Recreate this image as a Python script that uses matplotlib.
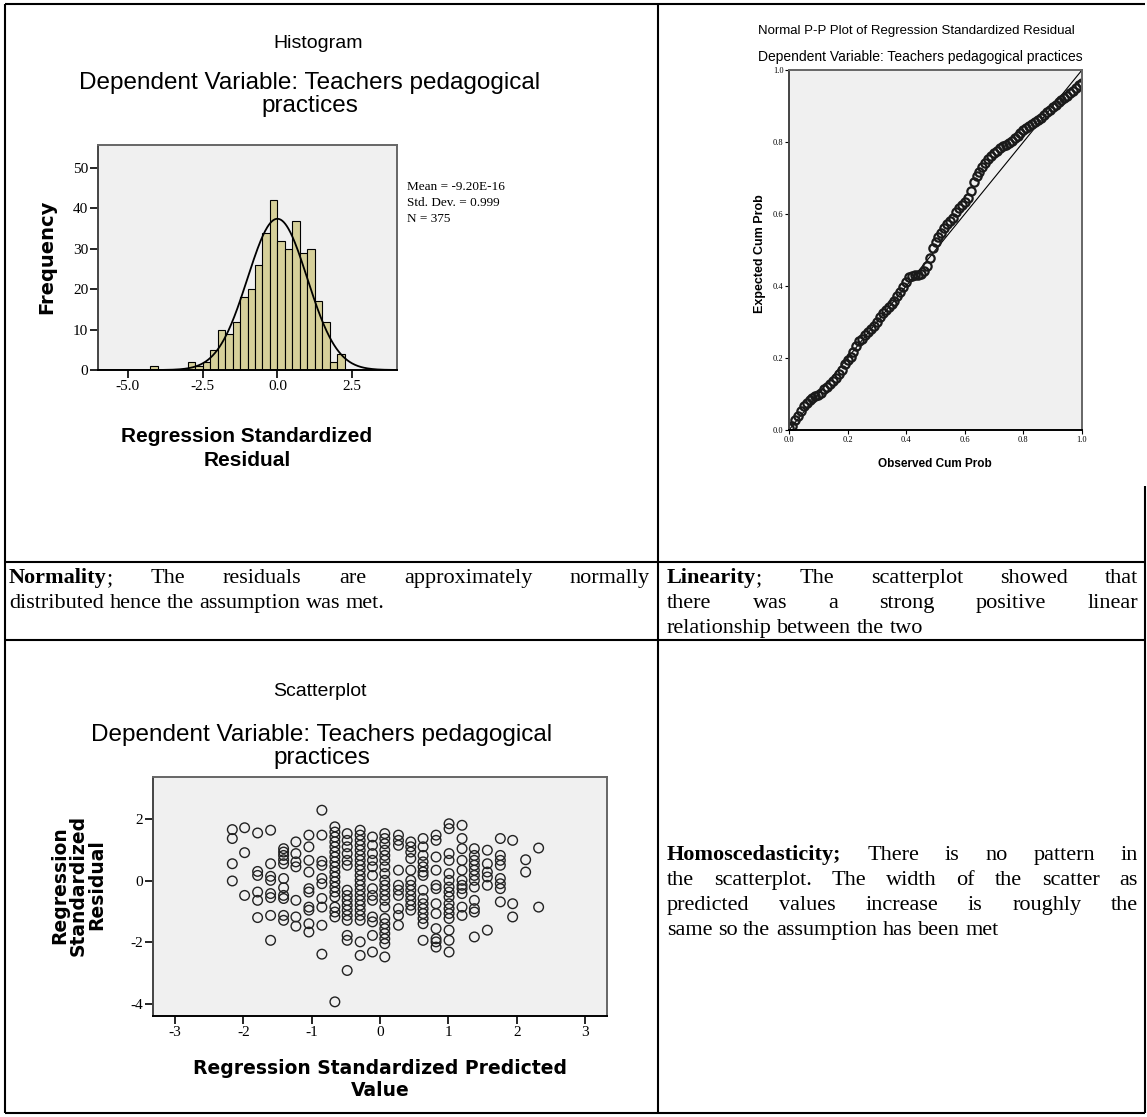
import numpy as np
import matplotlib.pyplot as plt

plt.rcParams['axes.unicode_minus'] = False

W, H = 1147, 1117

# histogram of standardized residuals (bin width 0.25)
bin_starts = [-4.25, -3.0, -2.75, -2.5, -2.25, -2.0, -1.75, -1.5, -1.25, -1.0, -0.75,
              -0.5, -0.25, 0.0, 0.25, 0.5, 0.75, 1.0, 1.25, 1.5, 1.75, 2.0]
bin_counts = [1, 2, 1, 2, 5, 10, 9, 12, 18, 20, 26, 34, 42, 32, 30, 37, 29, 30, 17, 12, 2, 4]
res_mean, res_sd, res_n = -9.20e-16, 0.999, 375

# normal P-P plot
pp_obs = [0.00, 0.01, 0.02, 0.03, 0.04, 0.05, 0.06, 0.07, 0.08, 0.09, 0.10, 0.11, 0.12, 0.13,
          0.14, 0.15, 0.16, 0.17, 0.18, 0.19, 0.20, 0.21, 0.22, 0.23, 0.24, 0.25, 0.26, 0.27,
          0.28, 0.29, 0.30, 0.31, 0.32, 0.33, 0.34, 0.35, 0.36, 0.37, 0.38, 0.39, 0.40, 0.41,
          0.42, 0.43, 0.44, 0.45, 0.46, 0.47, 0.48, 0.49, 0.50, 0.51, 0.52, 0.53, 0.54, 0.55,
          0.56, 0.57, 0.58, 0.59, 0.60, 0.61, 0.62, 0.63, 0.64, 0.65, 0.66, 0.67, 0.68, 0.69,
          0.70, 0.71, 0.72, 0.73, 0.74, 0.75, 0.76, 0.77, 0.78, 0.79, 0.80, 0.81, 0.82, 0.83,
          0.84, 0.85, 0.86, 0.87, 0.88, 0.89, 0.90, 0.91, 0.92, 0.93, 0.94, 0.95, 0.96, 0.97,
          0.98, 0.99, 1.00]
pp_exp = [0.005, 0.012, 0.028, 0.040, 0.052, 0.066, 0.076, 0.082, 0.088, 0.094, 0.098, 0.104,
          0.113, 0.120, 0.128, 0.136, 0.145, 0.155, 0.168, 0.182, 0.194, 0.204, 0.218, 0.232,
          0.246, 0.254, 0.264, 0.272, 0.280, 0.290, 0.301, 0.313, 0.324, 0.334, 0.341, 0.350,
          0.358, 0.372, 0.384, 0.396, 0.412, 0.424, 0.428, 0.430, 0.430, 0.433, 0.442, 0.455,
          0.478, 0.505, 0.522, 0.536, 0.548, 0.560, 0.572, 0.580, 0.590, 0.606, 0.616, 0.626,
          0.634, 0.644, 0.665, 0.690, 0.706, 0.718, 0.730, 0.742, 0.752, 0.762, 0.770, 0.776,
          0.782, 0.788, 0.792, 0.796, 0.802, 0.810, 0.818, 0.826, 0.832, 0.838, 0.844, 0.850,
          0.856, 0.862, 0.868, 0.874, 0.882, 0.889, 0.896, 0.904, 0.910, 0.916, 0.922, 0.928,
          0.935, 0.942, 0.950, 0.958, 0.965]

# scatterplot: predicted value columns and the residuals in each
sc_pred = [-2.16, -1.98, -1.79, -1.60, -1.41, -1.23, -1.04, -0.85, -0.66, -0.48, -0.29, -0.11,
           0.07, 0.27, 0.45, 0.63, 0.82, 1.01, 1.20, 1.38, 1.57, 1.76, 1.94, 2.13, 2.32]
sc_resid = [
    [1.67, 1.38, 0.56, 0.00],
    [1.73, 0.92, -0.47],
    [1.56, 0.31, 0.18, -0.36, -0.63, -1.19],
    [1.65, 0.56, 0.15, 0.02, -0.41, -0.54, -1.12, -1.93],
    [1.05, 0.94, 0.83, 0.69, 0.56, 0.08, -0.22, -0.47, -0.57, -1.12, -1.28],
    [1.27, 0.89, 0.62, 0.46, -0.63, -1.17, -1.47],
    [1.49, 1.11, 0.67, 0.29, -0.25, -0.36, -0.85, -0.95, -1.39, -1.66],
    [2.30, 1.49, 0.64, 0.51, 0.08, -0.09, -0.57, -0.85, -1.44, -2.38],
    [1.76, 1.59, 1.43, 1.27, 1.11, 0.94, 0.78, 0.62, 0.46, 0.29, 0.13, -0.03, -0.20, -0.36,
     -0.52, -0.85, -1.01, -1.17, -3.93],
    [1.54, 1.32, 1.11, 0.89, 0.67, 0.51, -0.30, -0.47, -0.63, -0.79, -0.95, -1.12, -1.28,
     -1.77, -1.93, -2.91],
    [1.65, 1.49, 1.32, 1.16, 1.00, 0.83, 0.67, 0.51, 0.35, 0.18, 0.02, -0.14, -0.30, -0.47,
     -0.63, -0.79, -0.95, -1.12, -1.28, -1.98, -2.42],
    [1.43, 1.16, 0.89, 0.67, 0.46, 0.18, -0.25, -0.47, -0.63, -1.17, -1.33, -1.77, -2.31],
    [1.54, 1.38, 1.21, 1.00, 0.83, 0.67, 0.46, 0.24, 0.02, -0.14, -0.30, -0.47, -0.63, -0.85,
     -1.22, -1.39, -1.55, -1.71, -1.88, -2.04, -2.47],
    [1.49, 1.32, 1.16, 0.35, -0.14, -0.30, -0.47, -0.90, -1.12, -1.44],
    [1.27, 1.11, 0.94, 0.73, 0.35, 0.02, -0.14, -0.30, -0.47, -0.63, -0.79, -0.95],
    [1.38, 1.11, 0.83, 0.62, 0.46, 0.29, 0.18, -0.30, -0.57, -0.74, -0.90, -1.06, -1.22,
     -1.39, -1.93],
    [1.49, 1.32, 0.78, 0.35, -0.14, -0.25, -0.74, -1.06, -1.55, -1.88, -1.98, -2.15],
    [1.86, 1.70, 0.89, 0.67, 0.24, 0.02, -0.20, -0.36, -0.52, -0.74, -0.90, -1.06, -1.22,
     -1.60, -1.93, -2.31],
    [1.81, 1.38, 1.05, 0.67, 0.35, 0.02, -0.14, -0.25, -0.41, -0.85, -1.12],
    [1.05, 0.83, 0.67, 0.51, 0.35, 0.18, 0.02, -0.20, -0.63, -0.90, -1.01, -1.82],
    [1.00, 0.56, 0.29, 0.13, -0.14, -1.60],
    [1.38, 0.83, 0.67, 0.51, 0.08, -0.09, -0.25, -0.68],
    [1.32, -0.74, -1.17],
    [0.69, 0.29],
    [1.07, -0.85],
]

fig = plt.figure(figsize=(W / 100, H / 100), dpi=100)


def rect(x0, y0, x1, y1):
    return [x0 / W, 1 - y1 / H, (x1 - x0) / W, (y1 - y0) / H]


# page layer in pixel coordinates for the table and all the loose text
bg = fig.add_axes([0, 0, 1, 1])
bg.set_xlim(0, W)
bg.set_ylim(H, 0)
bg.axis('off')

ROW1, ROW2 = 562, 640
for xs, ys in [([5, 1145], [4, 4]), ([5, 1145], [ROW1, ROW1]), ([5, 1145], [ROW2, ROW2]),
               ([5, 1145], [1113, 1113]), ([5, 5], [4, 1113]), ([658, 658], [4, 1113]),
               ([1145, 1145], [486, 1113])]:
    bg.plot(xs, ys, color='black', lw=1.5, solid_capstyle='butt')

SANS = 'Liberation Sans'
SERIF = 'Liberation Serif'
PANEL = '#f0f0f0'


def style_axes(ax, size):
    ax.set_facecolor(PANEL)
    for s in ax.spines.values():
        s.set_color('#666666')
        s.set_linewidth(1.4)
    ax.spines['bottom'].set_color('black')
    ax.spines['left'].set_color('#444444')
    ax.tick_params(direction='out', length=6, width=1.2, labelsize=size, pad=1)
    for lab in ax.get_xticklabels() + ax.get_yticklabels():
        lab.set_family(SERIF)


# ---- histogram ----
ax1 = fig.add_axes(rect(98, 145, 397, 370))
ax1.bar(bin_starts, bin_counts, width=0.25, align='edge', color='#d6d09a',
        edgecolor='black', linewidth=0.8)
xs = np.linspace(-6, 4, 400)
curve = res_n * 0.25 * np.exp(-0.5 * ((xs - res_mean) / res_sd) ** 2) / (res_sd * np.sqrt(2 * np.pi))
ax1.plot(xs, curve, color='black', lw=1.3)
ax1.set_xlim(-6, 4)
ax1.set_ylim(0, 55.7)
ax1.set_xticks([-5, -2.5, 0, 2.5])
ax1.set_xticklabels(['-5.0', '-2.5', '0.0', '2.5'])
ax1.set_yticks([0, 10, 20, 30, 40, 50])
style_axes(ax1, 11)

SUB = 17.5
bg.text(318, 43, 'Histogram', family=SANS, fontsize=14, ha='center', va='center')
bg.text(310, 83, 'Dependent Variable: Teachers pedagogical', family=SANS, fontsize=SUB,
        ha='center', va='center')
bg.text(310, 106, 'practices', family=SANS, fontsize=SUB, ha='center', va='center')
for i, s in enumerate(['Mean = -9.20E-16', 'Std. Dev. = 0.999', 'N = 375']):
    bg.text(407, 187 + 16 * i, s, family=SERIF, fontsize=9.5, ha='left', va='center')
bg.text(47, 257, 'Frequency', family='DejaVu Sans', fontweight='bold', fontsize=14,
        rotation=90, ha='center', va='center')
bg.text(247, 436, 'Regression Standardized', family=SANS, fontweight='bold', fontsize=15,
        ha='center', va='center')
bg.text(247, 460, 'Residual', family=SANS, fontweight='bold', fontsize=15,
        ha='center', va='center')

# ---- normal P-P plot ----
ax2 = fig.add_axes(rect(789, 70, 1082, 430))
ax2.plot([0, 1], [0, 1], color='black', lw=0.8)
ax2.plot(pp_obs, pp_exp, 'o', ms=6, mfc='none', mec='#1a1a1a', mew=1.6)
ax2.set_xlim(0, 1)
ax2.set_ylim(0, 1)
ticks = [0, 0.2, 0.4, 0.6, 0.8, 1.0]
ax2.set_xticks(ticks)
ax2.set_yticks(ticks)
ax2.set_xticklabels(['0.0', '0.2', '0.4', '0.6', '0.8', '1.0'])
ax2.set_yticklabels(['0.0', '0.2', '0.4', '0.6', '0.8', '1.0'])
style_axes(ax2, 6)
ax2.tick_params(length=3, width=0.8)

bg.text(916, 31, 'Normal P-P Plot of Regression Standardized Residual', family=SANS,
        fontsize=9.5, ha='center', va='center')
bg.text(920, 57, 'Dependent Variable: Teachers pedagogical practices', family=SANS,
        fontsize=10, ha='center', va='center')
bg.text(760, 254, 'Expected Cum Prob', family=SANS, fontweight='bold', fontsize=9,
        rotation=90, ha='center', va='center')
bg.text(935, 464, 'Observed Cum Prob', family=SANS, fontweight='bold', fontsize=8.5,
        ha='center', va='center')

# ---- scatterplot ----
ax3 = fig.add_axes(rect(153, 777, 607, 1016))
for px, col in zip(sc_pred, sc_resid):
    ax3.scatter([px] * len(col), col, s=48, facecolors='none', edgecolors='#222222',
                linewidths=1.0)
ax3.set_xlim(-3.32, 3.32)
ax3.set_ylim(-4.39, 3.38)
ax3.set_xticks([-3, -2, -1, 0, 1, 2, 3])
ax3.set_yticks([-4, -2, 0, 2])
style_axes(ax3, 11)

bg.text(320, 692, 'Scatterplot', family=SANS, fontsize=14, ha='center', va='center')
bg.text(322, 735, 'Dependent Variable: Teachers pedagogical', family=SANS, fontsize=SUB,
        ha='center', va='center')
bg.text(322, 758, 'practices', family=SANS, fontsize=SUB, ha='center', va='center')
bg.text(78, 885, 'Regression\nStandardized\nResidual', family='DejaVu Sans',
        fontweight='bold', fontsize=13.5, rotation=90, ha='center', va='center',
        multialignment='center', linespacing=0.95)
bg.text(380, 1069, 'Regression Standardized Predicted', family='DejaVu Sans',
        fontweight='bold', fontsize=13.5, ha='center', va='center')
bg.text(380, 1090, 'Value', family='DejaVu Sans', fontweight='bold', fontsize=13.5,
        ha='center', va='center')

# ---- table text (justified like the document) ----
renderer = fig.canvas.get_renderer()
BODY = 16


def text_line(line, x0, x1, y, bold='', justify=True):
    words = line.split(' ')
    items = []
    for k, w in enumerate(words):
        parts = []
        if k == 0 and bold:
            parts.append((bold, 'bold'))
            if len(w) > len(bold):
                parts.append((w[len(bold):], 'normal'))
        else:
            parts.append((w, 'normal'))
        objs = []
        for txt, wt in parts:
            t = bg.text(0, y, txt, family=SERIF, fontsize=BODY, fontweight=wt,
                        ha='left', va='baseline')
            objs.append((t, t.get_window_extent(renderer).width))
        items.append(objs)
    widths = [sum(w for _, w in objs) for objs in items]
    if justify and len(items) > 1:
        gap = (x1 - x0 - sum(widths)) / (len(items) - 1)
    else:
        gap = 0.25 * BODY * 100 / 72
    x = x0
    for objs, wsum in zip(items, widths):
        xx = x
        for t, w in objs:
            t.set_x(xx)
            xx += w
        x += wsum + gap


LS = 25
text_line('Normality; The residuals are approximately normally', 9, 650, 583, bold='Normality')
text_line('distributed hence the assumption was met.', 9, 650, 583 + LS, justify=False)
text_line('Linearity; The scatterplot showed that', 667, 1138, 583, bold='Linearity')
text_line('there was a strong positive linear', 667, 1138, 583 + LS)
text_line('relationship between the two', 667, 1138, 583 + 2 * LS, justify=False)

text_line('Homoscedasticity; There is no pattern in', 667, 1138, 860, bold='Homoscedasticity;')
text_line('the scatterplot. The width of the scatter as', 667, 1138, 860 + LS)
text_line('predicted values increase is roughly the', 667, 1138, 860 + 2 * LS)
text_line('same so the assumption has been met', 667, 1138, 860 + 3 * LS, justify=False)

fig.savefig('out.png', dpi=100)
